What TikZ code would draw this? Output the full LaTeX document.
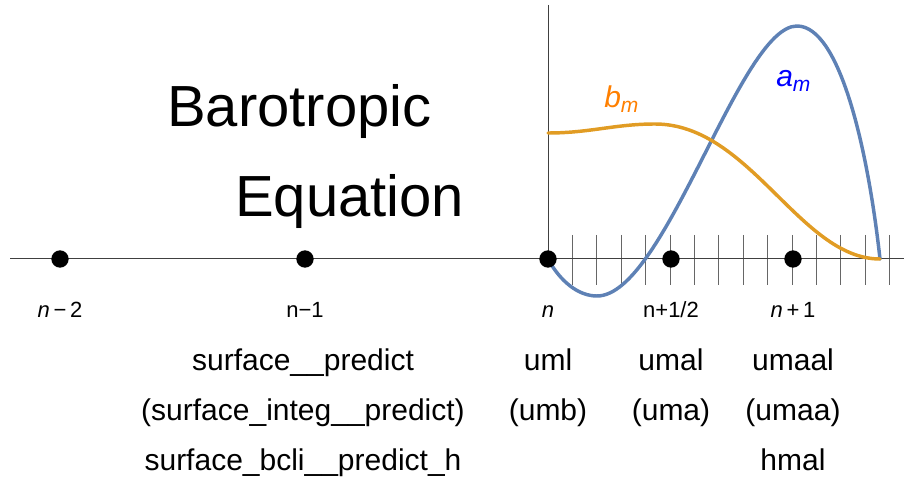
\documentclass[tikz,border=0pt]{standalone}
\usepackage{fontspec}
\setmainfont{Liberation Sans}
\usetikzlibrary{positioning}
\definecolor{curveblue}{HTML}{5E81B5}
\definecolor{curveorange}{HTML}{E19C24}
\definecolor{labelorange}{HTML}{FF7F00}

\begin{document}
\begin{tikzpicture}[x=0.75pt, y=-0.75pt,
  axis/.style={draw=black!75, line width=0.75pt},
  tick/.style={draw=black!60, line width=0.75pt},
  dot/.style={circle, fill=black, inner sep=0pt, minimum size=13pt},
  lvl/.style={anchor=base, inner sep=0pt, font=\fontsize{16.5}{18}\selectfont},
  row/.style={anchor=base, inner sep=0pt, font=\fontsize{22.5}{26}\selectfont},
  title/.style={anchor=base west, inner sep=0pt, font=\fontsize{43.5}{50}\selectfont},
  coef/.style={anchor=base west, inner sep=0pt, font=\fontsize{22.5}{26}\selectfont\itshape},
  curve/.style={line width=2.6pt, line cap=round, line join=round}]
\useasboundingbox (0,0) rectangle (904,481);

% axes and grid of the time step
\coordinate (axl) at (10,259);
\coordinate (axr) at (904,259);
\coordinate (ytop) at (548,5);
\coordinate (yorg) at (548,259);
\foreach \k in {1,...,14}
  \draw[tick] (548+24.4*\k,235) -- (548+24.4*\k,285);
\draw[axis] (axl) -- (axr);
\draw[axis] (ytop) -- (yorg);

% coefficient curves
\draw[curve, curveblue] (yorg) .. controls (560,281) and (578,296) .. (597,296)
  .. controls (665,296) and (740,26) .. (797,26)
  .. controls (840,26) and (868,150) .. (880,259);
\draw[curve, curveorange] (548,133) .. controls (590,133) and (615,124) .. (655,124)
  .. controls (750,124) and (800,259) .. (880,259);
\node[coef, text=labelorange] (bm) at (604,108) {b\textsubscript{m}};
\node[coef, text=blue] (am) at (776,87) {a\textsubscript{m}};

% time levels
\node[dot] (nm2) at (60,259) {};
\node[dot] (nm1) at (305,259) {};
\node[dot] (n0) at (548,259) {};
\node[dot] (nh) at (671,259) {};
\node[dot] (np1) at (793,259) {};

\node[lvl] (lnm2) at (60,317) {\textit{n}\,−\,2};
\node[lvl] (lnm1) at (305,317) {n−1};
\node[lvl] (ln0) at (548,317) {\textit{n}};
\node[lvl] (lnh) at (671,317) {n+1/2};
\node[lvl] (lnp1) at (793,317) {\textit{n}\,+\,1};

% title
\node[title] (baro) at (167,127) {Barotropic};
\node[title] (eqn) at (235,217) {Equation};

% routine and variable names
\node[row] (sp) at (303,370) {surface\_\_predict};
\node[row] (sip) at (303,420) {(surface\_integ\_\_predict)};
\node[row] (sbp) at (303,470) {surface\_bcli\_\_predict\_h};
\node[row] (uml) at (548,370) {uml};
\node[row] (umb) at (548,420) {(umb)};
\node[row] (umal) at (671,370) {umal};
\node[row] (uma) at (671,420) {(uma)};
\node[row] (umaal) at (793,370) {umaal};
\node[row] (umaa) at (793,420) {(umaa)};
\node[row] (hmal) at (793,470) {hmal};
\end{tikzpicture}
\end{document}
